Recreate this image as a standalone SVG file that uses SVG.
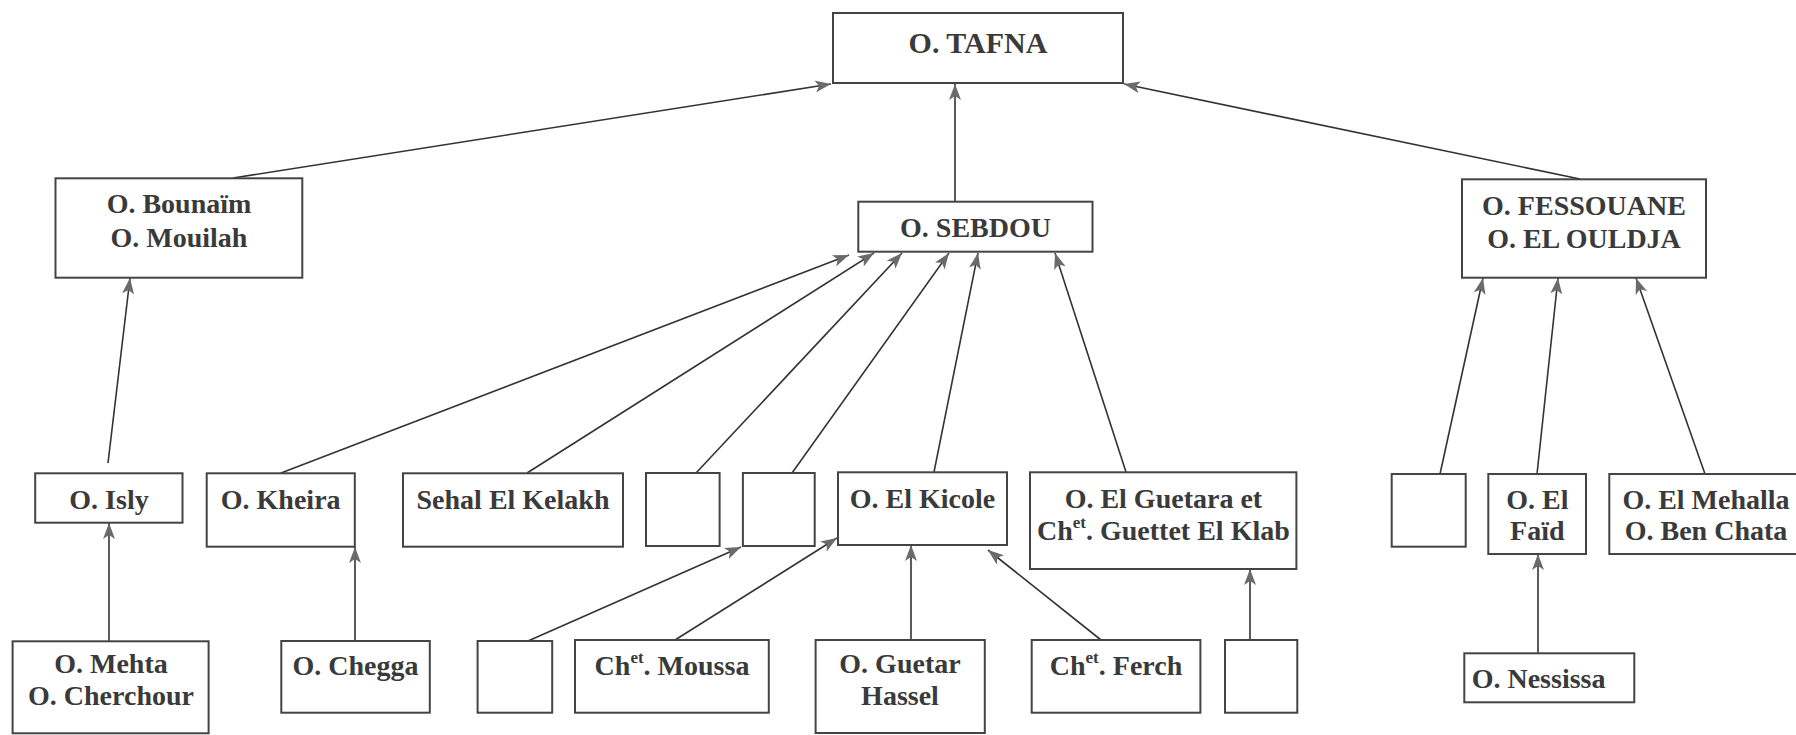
<svg xmlns="http://www.w3.org/2000/svg" width="1796" height="735" viewBox="0 0 1796 735">
<defs>
<marker id="ah" markerUnits="userSpaceOnUse" markerWidth="17" markerHeight="12" refX="16" refY="6" orient="auto">
<path d="M0,0 L16,6 L0,12 L4,6 z" fill="#6a6a6a"/>
</marker>
<style>
rect{fill:#fff;stroke:#444;stroke-width:2}
text{font-family:"Liberation Serif","Times New Roman",serif;font-weight:bold;font-size:28px;fill:#3a3a3a;text-anchor:middle}
.sup{font-size:17px}
#connectors line{stroke:#333;stroke-width:1.6;marker-end:url(#ah)}
</style>
</defs>
<rect x="0" y="0" width="1796" height="735" style="fill:#fff;stroke:none"/>
<g id="connectors">
<line x1="233" y1="178" x2="831" y2="84"/>
<line x1="955" y1="201" x2="955" y2="84"/>
<line x1="1580" y1="179" x2="1124" y2="84"/>
<line x1="108" y1="463" x2="130" y2="278"/>
<line x1="281" y1="473" x2="849" y2="255"/>
<line x1="527" y1="473" x2="874" y2="253"/>
<line x1="696" y1="473" x2="902" y2="253"/>
<line x1="792" y1="473" x2="949" y2="253"/>
<line x1="934" y1="472" x2="978" y2="253"/>
<line x1="1126" y1="472" x2="1055" y2="253"/>
<line x1="1440" y1="474" x2="1483" y2="278"/>
<line x1="1537" y1="474" x2="1558" y2="278"/>
<line x1="1705" y1="474" x2="1636" y2="278"/>
<line x1="109" y1="641" x2="109" y2="523"/>
<line x1="355" y1="641" x2="355" y2="547"/>
<line x1="528" y1="641" x2="741" y2="547"/>
<line x1="675" y1="640" x2="837" y2="538"/>
<line x1="911" y1="640" x2="911" y2="545"/>
<line x1="1101" y1="640" x2="988" y2="550"/>
<line x1="1250" y1="640" x2="1250" y2="569"/>
<line x1="1538" y1="653" x2="1538" y2="554"/>
</g>
<g id="tafna"><rect x="833" y="13" width="290" height="70"/><text x="978" y="53" style="font-size:30px">O. TAFNA</text></g>
<g id="bounaim"><rect x="55.5" y="178.3" width="246.8" height="99.4"/><text x="179" y="213">O. Bounaïm</text><text x="179" y="247">O. Mouilah</text></g>
<g id="sebdou"><rect x="858.3" y="201.7" width="234.2" height="50"/><text x="975.5" y="237">O. SEBDOU</text></g>
<g id="fessouane"><rect x="1462" y="179.3" width="244" height="98.4"/><text x="1584" y="215">O. FESSOUANE</text><text x="1584" y="248">O. EL OULDJA</text></g>
<g id="isly"><rect x="35.2" y="473.3" width="147.3" height="49.4"/><text x="109" y="509">O. Isly</text></g>
<g id="kheira"><rect x="206.7" y="473.3" width="148.1" height="73.4"/><text x="280.7" y="509">O. Kheira</text></g>
<g id="sehal"><rect x="403" y="473.3" width="220" height="73.4"/><text x="513" y="509">Sehal El Kelakh</text></g>
<g id="empty1"><rect x="646" y="473" width="73.6" height="73"/></g>
<g id="empty2"><rect x="742.9" y="473" width="71.8" height="73"/></g>
<g id="elkicole"><rect x="838" y="472.3" width="169" height="72.7"/><text x="922.5" y="508">O. El Kicole</text></g>
<g id="elguetara"><rect x="1030" y="472.3" width="266.4" height="96.7"/><text x="1163.4" y="508">O. El Guetara et</text><text x="1163.4" y="540">Ch<tspan class="sup" dy="-12">et</tspan><tspan dy="12">. Guettet El Klab</tspan></text></g>
<g id="emptyR"><rect x="1391.7" y="474" width="74" height="72.7"/></g>
<g id="elfaid"><rect x="1488.3" y="474" width="97.7" height="80"/><text x="1537.3" y="509">O. El</text><text x="1537.3" y="540">Faïd</text></g>
<g id="elmehalla"><rect x="1609.3" y="474" width="200" height="80"/><text x="1706" y="509">O. El Mehalla</text><text x="1706" y="540">O. Ben Chata</text></g>
<g id="mehta"><rect x="12.6" y="641.3" width="196" height="92"/><text x="111" y="673">O. Mehta</text><text x="111" y="705">O. Cherchour</text></g>
<g id="chegga"><rect x="281.3" y="641" width="148.5" height="71.7"/><text x="355.5" y="675">O. Chegga</text></g>
<g id="emptyB1"><rect x="477.6" y="641" width="74.6" height="71.7"/></g>
<g id="moussa"><rect x="575" y="640" width="193.8" height="72.7"/><text x="672" y="675">Ch<tspan class="sup" dy="-12">et</tspan><tspan dy="12">. Moussa</tspan></text></g>
<g id="guetar"><rect x="815.6" y="640" width="169.2" height="93"/><text x="900" y="673">O. Guetar</text><text x="900" y="705">Hassel</text></g>
<g id="ferch"><rect x="1031.7" y="640" width="168.7" height="72.7"/><text x="1116" y="675">Ch<tspan class="sup" dy="-12">et</tspan><tspan dy="12">. Ferch</tspan></text></g>
<g id="emptyB2"><rect x="1225" y="640" width="72.3" height="72.7"/></g>
<g id="nessissa"><rect x="1464.3" y="653.3" width="170" height="49"/><text x="1471.7" y="688" style="text-anchor:start">O. Nessissa</text></g>
</svg>
